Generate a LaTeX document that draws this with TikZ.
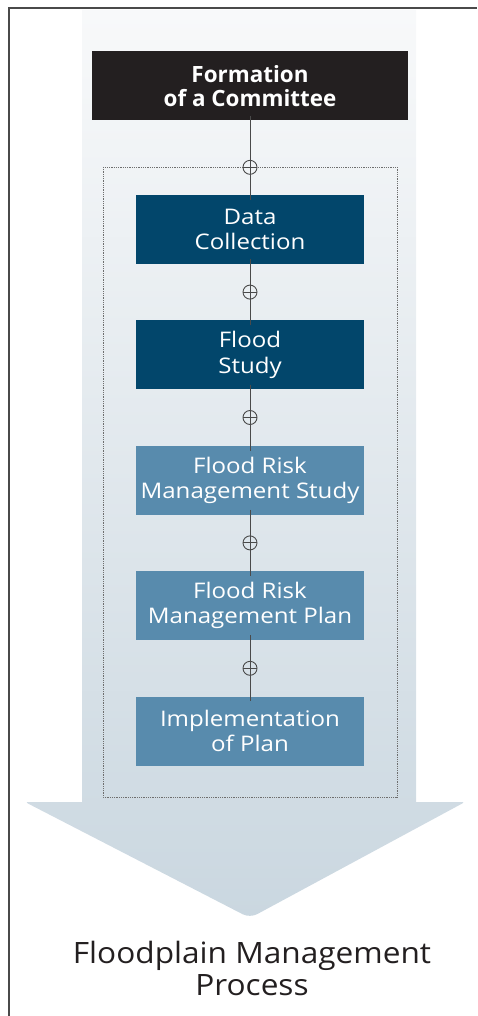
\documentclass[tikz,border=0pt]{standalone}
\usepackage{fontspec}
\setmainfont{Open Sans}
\newfontfamily\boxfont[FakeStretch=1.12]{Open Sans}
\newfontfamily\capfont[FakeStretch=1.075]{Open Sans}
\usepackage{tikz}
\usetikzlibrary{positioning}
\usepackage{xcolor}
\definecolor{cdark}{HTML}{02466B}
\definecolor{clight}{HTML}{588BAD}
\definecolor{cblack}{HTML}{231F20}
\definecolor{cline}{HTML}{4A4A4A}
\definecolor{ctop}{HTML}{F8F9FA}
\definecolor{cbottom}{HTML}{CAD7E0}

\begin{document}
\begin{tikzpicture}[
	x=1pt, y=-1pt,
	% Estilo para la caja superior
	headbox/.style={
		rectangle,
		fill=cblack,
		text=white,
		minimum width=316pt,
		minimum height=69pt,
		inner sep=0pt,
		align=center,
		font=\fontsize{22.4}{24}\selectfont\bfseries
	},
	% Estilo para las etapas
	darkbox/.style={
		rectangle,
		fill=cdark,
		text=white,
		minimum width=228pt,
		minimum height=69pt,
		inner sep=0pt,
		align=center,
		font=\boxfont\fontsize{21.5}{25.5}\selectfont
	},
	lightbox/.style={
		darkbox,
		fill=clight
	},
	% Estilo para los conectores
	link/.style={
		draw=cline,
		line width=0.9pt,
		shorten <=-5pt,
		shorten >=-5pt
	},
	% Estilo para los circulos con cruz
	plus/.style={
		circle,
		draw=cline,
		line width=0.9pt,
		minimum size=14pt,
		inner sep=0pt,
		path picture={\draw[cline, line width=0.9pt]
			(path picture bounding box.west) -- (path picture bounding box.east);}
	}
	]
	\useasboundingbox (0,0) rectangle (477,1016);
	
	% --- Marco ---
	\draw[cline, line width=1.2pt] (9,1016) -- (9,8) -- (477,8);
	
	% --- Flecha de fondo ---
	\shade[top color=ctop, bottom color=cbottom]
	(82,10) -- (416,10) -- (416,802)
	[rounded corners=3pt] -- (465,802)
	[rounded corners=8pt] -- (250,918)
	[rounded corners=3pt] -- (25,802)
	[sharp corners] -- (82,802) -- cycle;
	
	% Recuadro punteado
	\draw[cline!80, line width=0.8pt, densely dotted] (103,167) rectangle (397,797);
	
	% --- Etapas ---
	\node[headbox] (committee) at (250,86) {Formation\\of a Committee};
	\node[darkbox, below=74pt of committee] (data) {Data\\Collection};
	\node[darkbox, below=56pt of data] (study) {Flood\\Study};
	\node[lightbox, below=56pt of study] (riskstudy) {Flood Risk\\Management Study};
	\node[lightbox, below=56pt of riskstudy] (riskplan) {Flood Risk\\Management Plan};
	\node[lightbox, below=56pt of riskplan] (implement) {Implementation\\of Plan};
	
	% Conectores
	\draw[link] (committee) -- node[plus, pos=0.63] (p1) {} (data);
	\draw[link] (data) -- node[plus] (p2) {} (study);
	\draw[link] (study) -- node[plus] (p3) {} (riskstudy);
	\draw[link] (riskstudy) -- node[plus] (p4) {} (riskplan);
	\draw[link] (riskplan) -- node[plus] (p5) {} (implement);
	
	% Titulo inferior
	\node[text=cblack, align=center, font=\capfont\fontsize{29.4}{32}\selectfont]
	(title) at (252,968) {Floodplain Management\\Process};
	
\end{tikzpicture}
\end{document}
